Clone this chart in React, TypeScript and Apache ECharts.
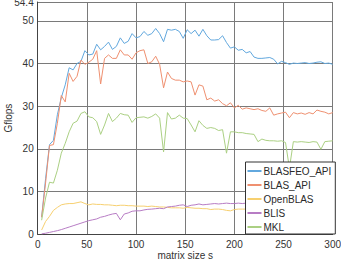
import React, { useEffect, useRef } from "react";
import * as echarts from "echarts";

const sizes: number[] = [];
for (let s = 4; s <= 300; s += 4) sizes.push(s);

const blasfeoApi = [
  4, 13, 21, 22, 28, 32, 35, 39, 38.5, 40, 40.5, 43, 42, 42.2, 44.5, 43.2, 44, 45, 43.3, 44,
  46, 44.7, 45.2, 47, 46, 46.3, 47.5, 46.6, 47, 48.2, 47, 45.1, 48, 47.8, 48, 47.5, 45.9, 47.9, 47, 47.8,
  46.4, 48, 46.5, 45.5, 45.5, 45.6, 46.5, 44.9, 43.6, 43.9, 43.1, 43.3, 42.5, 42.8, 41.5, 41.2, 41.2, 41.3, 41.4, 41,
  39.9, 40.5, 40.2, 39.8, 40.1, 40, 40.1, 40.2, 40, 40.1, 40.3, 40.4, 40, 40.1, 39.8,
];

const blasApi = [
  4, 12, 20.8, 21, 26, 32.5, 31, 37.7, 35.8, 37, 40.8, 39.8, 40.3, 41, 43, 35.2, 41.2, 42, 41.2, 41.2,
  43.2, 42, 42, 41, 42.5, 43, 43.2, 40, 40.4, 41.7, 39.8, 34.3, 38, 36.5, 36.1, 36.1, 35.7, 35.9, 35.7, 32.6,
  35, 34.7, 31.5, 31.9, 31.2, 31.5, 30.6, 30.1, 30.8, 29.6, 30.2, 29.3, 29.6, 29.4, 29.2, 29.4, 29, 28.8, 29.6, 27.9,
  28.2, 28.4, 28.6, 27.3, 28.5, 28.2, 28.4, 28.1, 28.5, 28.2, 29.1, 28.8, 28.6, 28.2, 28.5,
];

const openBlas = [
  1, 3, 4.2, 5.6, 6.3, 6.9, 7.1, 7.2, 7.2, 7.4, 7.6, 7.2, 6.9, 7.1, 7, 7, 6.9, 6.9, 6.8, 6.7,
  6.8, 6.8, 6.7, 6.7, 6.6, 6.6, 6.6, 6.5, 6.6, 6.5, 6.4, 6.4, 6.3, 6.2, 6.2, 6.2, 6.1, 6.3, 6.2, 6.1,
  6.1, 6, 6, 5.8, 5.9, 5.9, 5.8, 5.6, 5.5, 5.8, 5.9, 5.9, 5.9, 6, 5.9, 6, 6, 5.9, 6, 6,
  6.1, 6, 6, 6.1, 6, 6.1, 6, 6.1, 6.1, 6, 6.1, 6.1, 6, 6.1, 6.1,
];

const blis = [
  0.1, 0.25, 0.45, 0.65, 0.85, 1.1, 1.4, 1.7, 2, 2.3, 2.6, 2.9, 3.2, 3.4, 3.6, 4, 4.2, 4.5, 4.75, 4.9,
  3.4, 4.75, 5, 5.4, 5.5, 5.5, 5.7, 5.85, 5.9, 6, 6.1, 6, 6.4, 6.5, 6.6, 6.8, 6.9, 6.5, 6.8, 6.9,
  7.1, 6.9, 7, 7.1, 7.2, 7.1, 7.2, 7.3, 7.2, 7.2, 7.3, 7.2, 7.3, 7.3, 7.2, 7.3, 7.3, 7.2, 7.3, 7.3,
  7.2, 7.3, 7.3, 7.2, 7.3, 7.3, 7.2, 7.3, 7.3, 7.2, 7.3, 7.3, 7.2, 7.3, 7.2,
];

const mkl = [
  3.3, 8.5, 12.2, 12, 15, 19, 21.3, 24, 26, 26.5, 28.3, 28.7, 27.5, 27.3, 26.4, 23.4, 25.6, 28.3, 26.4, 27.2,
  28.3, 28, 27.9, 26.2, 27.3, 27.4, 27.5, 27.2, 27.6, 28.2, 27.2, 19.3, 28.5, 27, 27.2, 27.9, 27.2, 27.1, 25.6, 24,
  26.6, 25.5, 24.8, 25, 24.8, 24.3, 24.5, 19, 24, 24, 23.8, 23.8, 23.6, 23.5, 23.4, 21.7, 22.3, 22, 21.9, 21.9,
  21.8, 21.9, 21.5, 15.5, 21.7, 21.6, 21.7, 21.6, 21.5, 21.7, 21.6, 19.9, 21.7, 21.8, 21.9,
];

const seriesNames = ["BLASFEO_API", "BLAS_API", "OpenBLAS", "BLIS", "MKL"];
const seriesValues = [blasfeoApi, blasApi, openBlas, blis, mkl];
const seriesColors = ["#62a8de", "#ef9070", "#f7d070", "#b77cc4", "#abd083"];

export default function App() {
  const ref = useRef<HTMLDivElement>(null);
  useEffect(() => {
    if (!ref.current) return;
    const chart = echarts.init(ref.current, undefined, { renderer: "svg" });
    const font = "Liberation Sans";
    chart.setOption({
      animation: false,
      backgroundColor: "#ffffff",
      grid: {
        left: 37.7,
        right: 8.3,
        top: 2,
        bottom: 28.7,
        containLabel: false,
        outerBoundsMode: "none",
      },
      xAxis: {
        type: "value",
        min: 0,
        max: 300,
        interval: 50,
        name: "matrix size s",
        nameLocation: "middle",
        nameGap: 16.5,
        nameMoveOverlap: false,
        nameTextStyle: { color: "#333", fontSize: 10, fontFamily: font },
        axisLine: { show: true, lineStyle: { color: "#444", width: 1 } },
        axisTick: { show: false },
        axisLabel: { color: "#333", fontSize: 10, fontFamily: font, margin: 5 },
        splitLine: { show: true, lineStyle: { color: "#7a7a7a", width: 1 } },
      },
      yAxis: {
        type: "value",
        min: 0,
        max: 54.4,
        interval: 10,
        name: "Gflops",
        nameLocation: "middle",
        nameGap: 24,
        nameMoveOverlap: false,
        nameTextStyle: { color: "#333", fontSize: 10, fontFamily: font },
        axisLine: { show: true, lineStyle: { color: "#444", width: 1 } },
        axisTick: { show: false },
        axisLabel: { color: "#333", fontSize: 10, fontFamily: font, margin: 4 },
        splitLine: { show: true, lineStyle: { color: "#7a7a7a", width: 1 } },
      },
      legend: {
        orient: "vertical",
        left: 245.5,
        top: 162,
        padding: [3, 4, 1, 2],
        itemWidth: 14,
        itemHeight: 2,
        itemGap: 2,
        icon: "rect",
        backgroundColor: "#ffffff",
        borderColor: "#333",
        borderWidth: 1,
        borderRadius: 0,
        textStyle: { color: "#2a2a2a", fontSize: 10, fontFamily: font, lineHeight: 12, padding: [0, 0, 0, -3] },
        data: seriesNames,
      },
      series: seriesNames.map((name, i) => ({
        name,
        type: "line",
        showSymbol: false,
        symbol: "none",
        data: sizes.map((s, j) => [s, seriesValues[i][j]]),
        lineStyle: { color: seriesColors[i], width: 1 },
        itemStyle: { color: seriesColors[i] },
      })),
    });
    return () => chart.dispose();
  }, []);
  return (
    <div
      ref={ref}
      style={{ position: "fixed", left: 0, top: 0, width: 341, height: 263 }}
    />
  );
}
